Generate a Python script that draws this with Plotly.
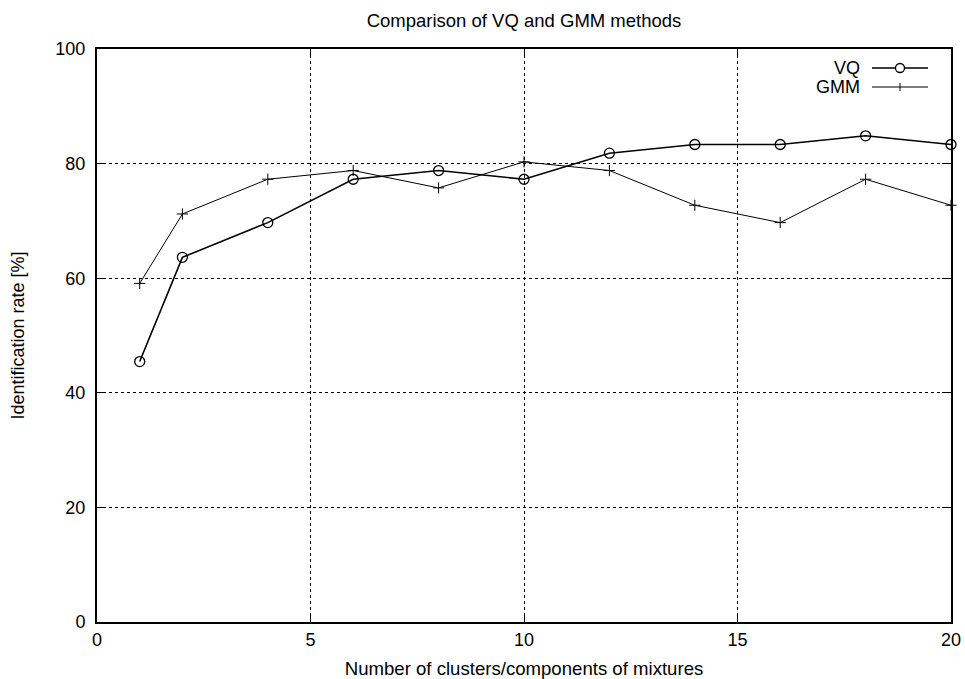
import plotly.graph_objects as go

x_vals = [1, 2, 4, 6, 8, 10, 12, 14, 16, 18, 20]
vq_rate = [45.45, 63.64, 69.70, 77.27, 78.79, 77.27, 81.82, 83.33, 83.33, 84.85, 83.33]
gmm_rate = [59.09, 71.21, 77.27, 78.79, 75.76, 80.30, 78.79, 72.73, 69.70, 77.27, 72.73]
x_ticks = [0, 5, 10, 15, 20]
y_ticks = [0, 20, 40, 60, 80, 100]
series_names = ["VQ", "GMM"]

FONT = "Liberation Sans, Arial, Helvetica, sans-serif"
FS = 18

W, H = 965, 679
ML, MR, MT, MB = 97, 14, 49, 57
PW = W - ML - MR
PH = H - MT - MB

fig = go.Figure()
fig.add_trace(go.Scatter(
    x=x_vals, y=vq_rate, name=series_names[0], mode="lines+markers",
    line=dict(color="black", width=1.6),
    marker=dict(symbol="circle-open", size=10, color="black", line=dict(width=1.3)),
    showlegend=False, cliponaxis=False,
))
fig.add_trace(go.Scatter(
    x=x_vals, y=gmm_rate, name=series_names[1], mode="lines+markers",
    line=dict(color="black", width=1),
    marker=dict(symbol="cross-thin-open", size=8, color="black", line=dict(width=1, color="black")),
    showlegend=False, cliponaxis=False,
))

axis_common = dict(
    showline=True, linecolor="black", linewidth=2, mirror="ticks",
    ticks="inside", ticklen=9, tickwidth=1, tickcolor="black",
    showgrid=True, gridcolor="black", gridwidth=1, griddash="dot",
    zeroline=False, automargin=False,
    tickfont=dict(family=FONT, size=FS, color="black"),
)

# manual legend (gnuplot style: label on the left, sample on the right)
def px_x(px):
    return (px - ML) / PW

def px_y(py):
    return (H - MB - py) / PH

annotations = []
shapes = []
legend_rows = [(series_names[0], 68), (series_names[1], 87)]
for i, (name, py) in enumerate(legend_rows):
    annotations.append(dict(text=name, xref="paper", yref="paper", x=px_x(862), y=px_y(py),
                            xanchor="right", yanchor="middle", showarrow=False,
                            font=dict(family=FONT, size=FS, color="black")))
    shapes.append(dict(type="line", xref="paper", yref="paper",
                       x0=px_x(872), x1=px_x(928), y0=px_y(py), y1=px_y(py),
                       line=dict(color="black", width=1.6 if i == 0 else 1)))
# VQ sample marker (circle)
r = 4.5
shapes.append(dict(type="circle", xref="paper", yref="paper",
                   x0=px_x(900 - r), x1=px_x(900 + r), y0=px_y(68 + r), y1=px_y(68 - r),
                   line=dict(color="black", width=1.3), fillcolor="white"))
# GMM sample marker (cross)
shapes.append(dict(type="line", xref="paper", yref="paper",
                   x0=px_x(900), x1=px_x(900), y0=px_y(87 + 4), y1=px_y(87 - 4),
                   line=dict(color="black", width=1)))

fig.update_layout(
    width=W, height=H,
    margin=dict(l=ML, r=MR, t=MT, b=MB, autoexpand=False),
    paper_bgcolor="white", plot_bgcolor="white",
    font=dict(family=FONT, size=FS, color="black"),
    title=dict(text="Comparison of VQ and GMM methods", x=0.5, xref="paper",
               y=1 - 21 / H, yref="container", yanchor="middle",
               font=dict(family=FONT, size=18.5, color="black")),
    xaxis=dict(range=[0, 20], tickvals=x_ticks, **axis_common,
               title=dict(text="Number of clusters/components of mixtures", standoff=17,
                          font=dict(family=FONT, size=18.6))),
    yaxis=dict(range=[0, 100], tickvals=y_ticks, **axis_common, ticklabelstandoff=6,
               title=dict(text="Identification rate [%]", standoff=26,
                          font=dict(family=FONT, size=FS))),
    annotations=annotations,
    shapes=shapes,
    showlegend=False,
)

fig.write_html(
    "out.html",
    config={"displayModeBar": False},
    post_script="document.body.style.margin='0';document.body.style.overflow='hidden';",
)
